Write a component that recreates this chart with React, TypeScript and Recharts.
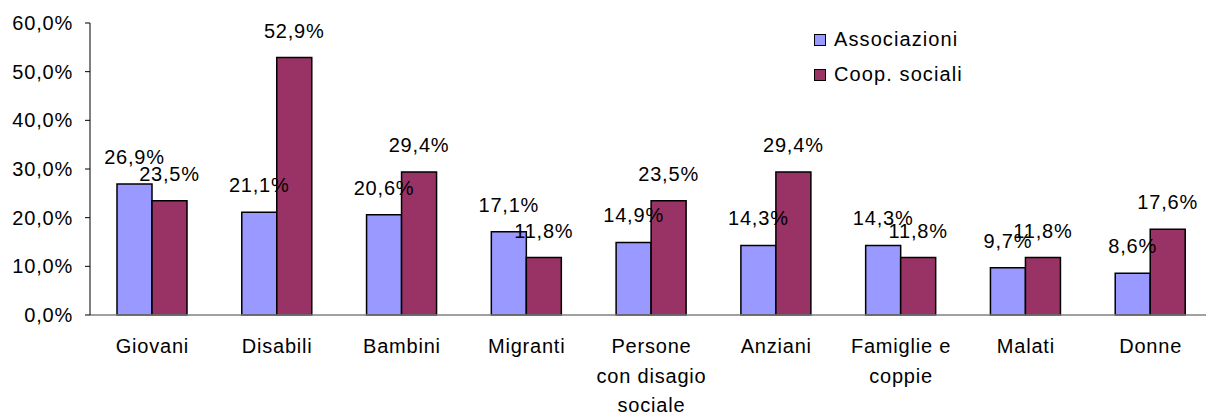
import { BarChart, Bar, XAxis, YAxis, Legend, LabelList } from "recharts";

const categories = [
  "Giovani",
  "Disabili",
  "Bambini",
  "Migranti",
  "Persone\ncon disagio\nsociale",
  "Anziani",
  "Famiglie e\ncoppie",
  "Malati",
  "Donne",
];
const associazioni = [26.9, 21.1, 20.6, 17.1, 14.9, 14.3, 14.3, 9.7, 8.6];
const coopSociali = [23.5, 52.9, 29.4, 11.8, 23.5, 29.4, 11.8, 11.8, 17.6];
const yTicks = [0, 10, 20, 30, 40, 50, 60];
const edgeTicks = [0, 1, 2, 3, 4, 5, 6, 7, 8, 9];

const series = [
  { key: "assoc", name: "Associazioni", color: "#9999FF" },
  { key: "coop", name: "Coop. sociali", color: "#993366" },
];

const data = categories.map((name, i) => ({
  name,
  assoc: associazioni[i],
  coop: coopSociali[i],
}));

const FONT = "'Liberation Sans', Arial, sans-serif";
const FS = 20;
const LS = 0.8;
const pct = (v: number) => `${v.toFixed(1).replace(".", ",")}%`;

function CategoryTick({ x, y, payload }: any) {
  const lines = String(payload.value).split("\n");
  return (
    <text
      x={x}
      y={y + 38}
      textAnchor="middle"
      fontFamily={FONT}
      fontSize={FS}
      letterSpacing={LS}
      fill="#000"
    >
      {lines.map((l, i) => (
        <tspan key={i} x={x} dy={i === 0 ? 0 : 29.5}>
          {l}
        </tspan>
      ))}
    </text>
  );
}

function renderLabel(props: any) {
  const { x, y, width, value } = props;
  return (
    <text
      x={x + width / 2}
      y={y - 20}
      textAnchor="middle"
      fontFamily={FONT}
      fontSize={FS}
      letterSpacing={LS}
      fill="#000"
    >
      {pct(value)}
    </text>
  );
}

function renderLegend() {
  return (
    <div style={{ fontFamily: FONT, fontSize: FS, letterSpacing: LS + 0.3, color: "#000" }}>
      {series.map((s) => (
        <div key={s.key} style={{ display: "flex", alignItems: "center", height: 35 }}>
          <span
            style={{
              width: 10,
              height: 10,
              background: s.color,
              border: "1.5px solid #000",
              marginRight: 8,
            }}
          />
          {s.name}
        </div>
      ))}
    </div>
  );
}

export default function App() {
  return (
    <div
      style={{
        position: "fixed",
        left: 0,
        top: 0,
        width: 1206,
        height: 416,
        overflow: "hidden",
        background: "#fff",
      }}
    >
      <BarChart
        width={1213}
        height={416}
        data={data}
        margin={{ top: 23, right: 0, left: 0, bottom: 0 }}
        barGap={0}
      >
        <XAxis
          xAxisId="edges"
          type="number"
          domain={[0, 9]}
          ticks={edgeTicks}
          tickFormatter={() => ""}
          height={0}
          tickSize={6}
          axisLine={false}
          tickLine={{ stroke: "#555" }}
        />
        <XAxis
          dataKey="name"
          height={101}
          tickSize={0}
          tickMargin={0}
          tickLine={false}
          axisLine={{ stroke: "#808080", strokeWidth: 1.5 }}
          tick={<CategoryTick />}
          interval={0}
        />
        <YAxis
          width={90}
          domain={[0, 60]}
          ticks={yTicks}
          tickFormatter={(v) => `${v},0%`}
          tickSize={5}
          tickMargin={12}
          axisLine={{ stroke: "#000" }}
          tickLine={{ stroke: "#000" }}
          tick={{ fontFamily: FONT, fontSize: FS, fill: "#000", letterSpacing: LS }}
        />
        <Legend
          layout="vertical"
          align="center"
          verticalAlign="middle"
          content={renderLegend}
          wrapperStyle={{ position: "absolute", left: 814, top: 22, width: 220 }}
        />
        {series.map((s) => (
          <Bar
            key={s.key}
            dataKey={s.key}
            name={s.name}
            fill={s.color}
            stroke="#000"
            strokeWidth={1.5}
            barSize={35}
            isAnimationActive={false}
          >
            <LabelList dataKey={s.key} content={renderLabel} />
          </Bar>
        ))}
      </BarChart>
    </div>
  );
}
